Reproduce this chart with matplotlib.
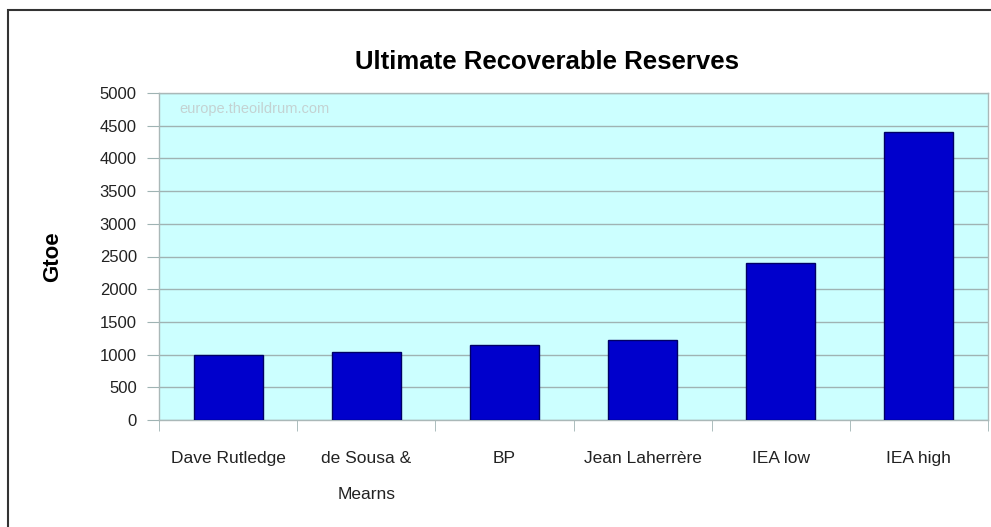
import matplotlib.pyplot as plt
from matplotlib.patches import Rectangle

plt.rcParams['font.family'] = ['Liberation Sans', 'DejaVu Sans']

categories = ["Dave Rutledge", "de Sousa &\nMearns", "BP", "Jean Laherrère", "IEA low", "IEA high"]
urr_gtoe = [1000, 1040, 1150, 1220, 2400, 4400]
y_ticks = [0, 500, 1000, 1500, 2000, 2500, 3000, 3500, 4000, 4500, 5000]

W, H = 991, 527
fig = plt.figure(figsize=(W / 100, H / 100), dpi=100)
ax = fig.add_axes([159 / W, 1 - 420 / H, (988 - 159) / W, (420 - 93) / H])

ax.set_facecolor("#ccffff")
x = range(len(categories))
ax.bar(x, urr_gtoe, width=0.5, color="#0000cc", edgecolor="#000066", linewidth=1, zorder=3)

ax.set_xlim(-0.5, len(categories) - 0.5)
ax.set_ylim(0, 5000)
ax.set_yticks(y_ticks)
ax.set_yticklabels([str(v) for v in y_ticks], fontsize=12, color="#222222")
ax.yaxis.grid(True, color="#9fb3b3", linewidth=1, zorder=1)
ax.tick_params(axis="y", length=9, color="#9fb3b3", pad=7)

ax.set_xticks(list(x))
ax.set_xticklabels(categories, fontsize=12.5, color="#222222", linespacing=2.75, va="top")
ax.tick_params(axis="x", which="major", length=0, pad=22.5)
ax.set_xticks([i - 0.5 for i in range(len(categories) + 1)], minor=True)
ax.tick_params(axis="x", which="minor", length=8, color="#9fb3b3")

for s in ax.spines.values():
    s.set_color("#aab8b8")
    s.set_linewidth(1)

ax.set_ylabel("Gtoe", fontsize=16, fontweight="bold", labelpad=26)
ax.text(0.025, 0.95, "europe.theoildrum.com", transform=ax.transAxes, fontsize=10.5,
        color="#c4d2d2", va="center", ha="left")

fig.text(547 / W, 1 - 62 / H, "Ultimate Recoverable Reserves", fontsize=18.5,
         fontweight="bold", ha="center", va="center")

# outer frame of the original chart
fig.patches.append(Rectangle((8 / W, -0.1), 1.1, 1 - 10 / H + 0.1, transform=fig.transFigure,
                             fill=False, edgecolor="#333333", linewidth=1.5))

fig.savefig("out.png", dpi=100)
